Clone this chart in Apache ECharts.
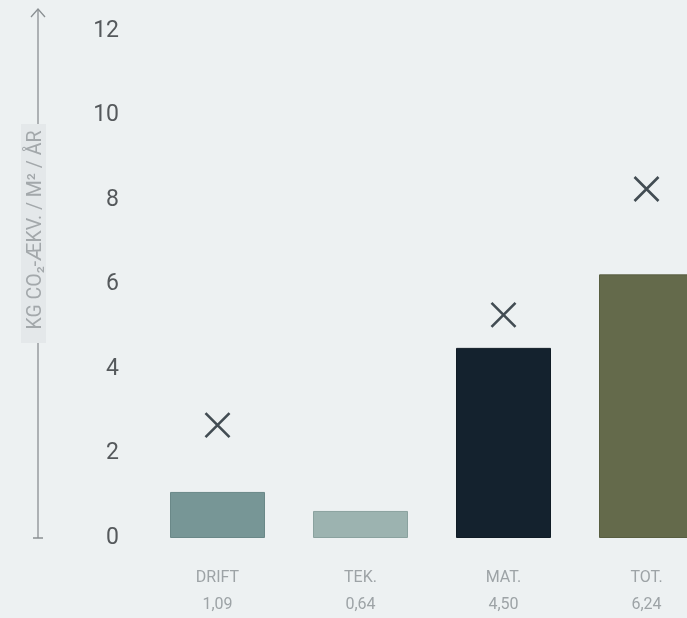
<!DOCTYPE html>
<html>
<head>
<meta charset="utf-8">
<script src="https://cdn.jsdelivr.net/npm/echarts@6/dist/echarts.min.js"></script>
<style>
html,body{margin:0;padding:0;background:#edf1f2;overflow:hidden;}
#c{width:720px;height:618px;}
</style>
</head>
<body>
<div id="c"></div>
<script>
const categories = ['DRIFT', 'TEK.', 'MAT.', 'TOT.'];
const barValues = [1.09, 0.64, 4.50, 6.24];
const markerValues = [2.67, null, 5.28, 8.26];
const barColors = ['#779696', '#9cb3b0', '#14222e', '#646a4b'];
const barBorders = ['#6a8888', '#8aa29f', '#101c26', '#585e41'];
const yTicks = { min: 0, max: 12, interval: 2 };
const axisTitle = 'KG CO₂-ÆKV. / M² / ÅR';

const chart = echarts.init(document.getElementById('c'), null, { renderer: 'canvas' });
const fmt = v => v.toFixed(2).replace('.', ',');

chart.setOption({
  backgroundColor: '#edf1f2',
  animation: false,
  grid: { left: 146, top: 31, width: 572, height: 507 },
  xAxis: {
    type: 'category',
    data: categories,
    axisLine: { show: false },
    axisTick: { show: false },
    axisLabel: {
      margin: 26,
      color: '#9da3a6',
      fontFamily: 'Roboto',
      fontSize: 16,
      lineHeight: 27,
      formatter: (v, i) => v + '\n' + fmt(barValues[i])
    }
  },
  yAxis: {
    type: 'value',
    min: yTicks.min, max: yTicks.max, interval: yTicks.interval,
    splitLine: { show: false },
    axisLine: { show: false },
    axisTick: { show: false },
    axisLabel: { margin: 27, color: '#55595c', fontFamily: 'Roboto', fontSize: 23, padding: [4, 0, 0, 0] }
  },
  series: [
    {
      type: 'bar',
      barWidth: 95,
      data: barValues.map((v, i) => ({
        value: v,
        itemStyle: { color: barColors[i], borderColor: barBorders[i], borderWidth: 1 }
      }))
    },
    {
      type: 'scatter',
      symbol: 'path://M0,0L10,10M10,0L0,10',
      symbolSize: 24,
      itemStyle: { color: 'transparent', borderColor: '#17232b', borderWidth: 2.6 },
      data: markerValues.map(v => v == null ? '-' : v)
    }
  ],
  graphic: [
    { type: 'line', shape: { x1: 38, y1: 538, x2: 38, y2: 9 }, style: { stroke: '#8a8f92', lineWidth: 1.3 } },
    { type: 'polyline', shape: { points: [[31, 17], [38, 9], [45, 17]] }, style: { stroke: '#8a8f92', lineWidth: 1.3, fill: null } },
    { type: 'line', shape: { x1: 33, y1: 538, x2: 43, y2: 538 }, style: { stroke: '#8a8f92', lineWidth: 1.5 } },
    { type: 'rect', shape: { x: 21, y: 124, width: 25, height: 219 }, style: { fill: '#e4e8ea' } },
    {
      type: 'text',
      x: 36, y: 230,
      rotation: Math.PI / 2,
      style: {
        text: axisTitle,
        fill: '#a3a8ab',
        font: '19.5px Roboto',
        align: 'center',
        verticalAlign: 'middle'
      }
    }
  ]
});
</script>
</body>
</html>
